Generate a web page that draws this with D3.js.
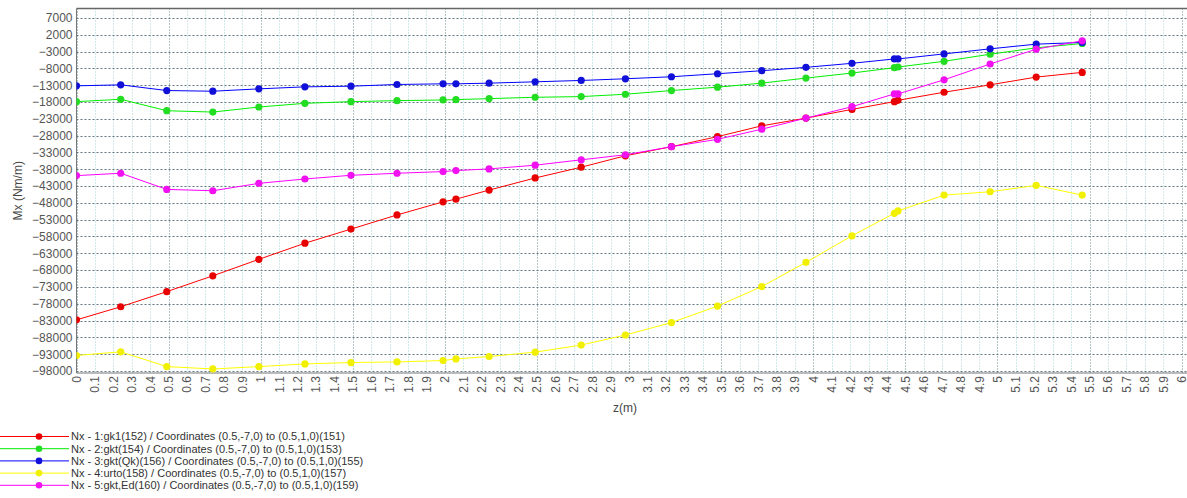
<!DOCTYPE html>
<html>
<head>
<meta charset="utf-8">
<script src="https://cdn.jsdelivr.net/npm/d3@7"></script>
<style>
  html, body { margin: 0; padding: 0; background: #fff; }
  svg { display: block; font-family: "Liberation Sans", Arial, sans-serif; }
</style>
</head>
<body>
<svg id="chart" width="1187" height="498"></svg>
<script>
// ---- data ----
const zValues = [0, 0.24, 0.49, 0.74, 0.99, 1.24, 1.49, 1.74, 1.99, 2.06, 2.24, 2.49, 2.74, 2.98, 3.23, 3.48, 3.72, 3.96, 4.21, 4.44, 4.46, 4.71, 4.96, 5.21, 5.46];
const mx1 = [-82800, -78900, -74400, -69700, -64800, -60000, -55800, -51600, -47700, -46900, -44200, -40600, -37400, -34000, -31300, -28300, -25100, -22800, -20200, -17900, -17500, -15100, -12900, -10600, -9200];
const mx2 = [-17900, -17200, -20600, -21000, -19500, -18400, -17900, -17600, -17400, -17300, -17000, -16600, -16400, -15700, -14600, -13600, -12400, -10900, -9400, -7800, -7600, -5900, -3800, -1900, -600];
const mx3 = [-13200, -12900, -14600, -14800, -14100, -13500, -13300, -12800, -12600, -12600, -12400, -12000, -11600, -11100, -10500, -9600, -8700, -7700, -6500, -5200, -5200, -3700, -2200, -800, -300];
const mx4 = [-93400, -92300, -96700, -97400, -96700, -95900, -95500, -95300, -94900, -94400, -93700, -92400, -90300, -87300, -83600, -78700, -72900, -65700, -57800, -51100, -50400, -45700, -44700, -42800, -45700];
const mx5 = [-39900, -39200, -44000, -44400, -42200, -40900, -39800, -39200, -38700, -38400, -37900, -36800, -35200, -33700, -31300, -29100, -26100, -22800, -19400, -15600, -15600, -11400, -6700, -2300, 200];
const seriesNames = [
  "Nx - 1:gk1(152) / Coordinates (0.5,-7,0) to (0.5,1,0)(151)",
  "Nx - 2:gkt(154) / Coordinates (0.5,-7,0) to (0.5,1,0)(153)",
  "Nx - 3:gkt(Qk)(156) / Coordinates (0.5,-7,0) to (0.5,1,0)(155)",
  "Nx - 4:urto(158) / Coordinates (0.5,-7,0) to (0.5,1,0)(157)",
  "Nx - 5:gkt,Ed(160) / Coordinates (0.5,-7,0) to (0.5,1,0)(159)"
];
const seriesColors = ["#ff0000", "#00ee00", "#0000ff", "#ffff00", "#ff00ff"];
const markerColors = ["#e80000", "#22dd22", "#1010d8", "#f0f000", "#f010f0"];
const yTicks = d3.range(-98000, 7001, 5000);
const xTicks = d3.range(0, 61).map(i => i / 10);
const yTitle = "Mx (Nm/m)";
const xTitle = "z(m)";

const allSeries = [mx1, mx2, mx3, mx4, mx5].map((vals, i) => ({
  name: seriesNames[i], color: seriesColors[i], marker: markerColors[i],
  points: vals.map((v, j) => ({ z: zValues[j], v }))
}));

// ---- layout ----
const svg = d3.select("#chart");
const pL = 76.5, pT = 8.5, pB = 373, pR = 1187;
const x = d3.scaleLinear().domain([0, 6.05]).range([pL, pL + 6.05 * 184.2]);
const y = d3.scaleLinear().domain([-98600, 9800]).range([pB, pT]);

svg.append("defs").append("clipPath").attr("id", "clip")
  .append("rect").attr("x", pL).attr("y", pT).attr("width", pR - pL).attr("height", pB - pT);

// grid
const grid = svg.append("g");
grid.selectAll("line.vg").data(xTicks).join("line")
  .attr("x1", d => Math.round(x(d)) + 0.5).attr("x2", d => Math.round(x(d)) + 0.5)
  .attr("y1", pT).attr("y2", pB)
  .attr("stroke", (d, i) => (i % 5 === 0) ? "#6a8c90" : "#9fd0d4")
  .attr("stroke-width", 1)
  .attr("stroke-dasharray", "1,2");
grid.selectAll("line.hg").data(yTicks).join("line")
  .attr("x1", pL).attr("x2", pR)
  .attr("y1", d => Math.round(y(d)) + 0.5).attr("y2", d => Math.round(y(d)) + 0.5)
  .attr("stroke", "#5f7780")
  .attr("stroke-width", 1)
  .attr("stroke-dasharray", "2,2");

// frame
svg.append("line").attr("x1", pL).attr("x2", pR).attr("y1", pT).attr("y2", pT)
  .attr("stroke", "#666").attr("stroke-width", 1.5);
svg.append("line").attr("x1", pL).attr("x2", pL).attr("y1", pT).attr("y2", pB)
  .attr("stroke", "#777").attr("stroke-width", 1);
svg.append("line").attr("x1", pL).attr("x2", pR).attr("y1", pB).attr("y2", pB)
  .attr("stroke", "#777").attr("stroke-width", 1);

// y axis
const yAxis = d3.axisLeft(y).tickValues(yTicks).tickSize(0).tickPadding(4).tickFormat(d3.format("d"));
const gy = svg.append("g").attr("transform", `translate(${pL},0)`).call(yAxis);
gy.select(".domain").remove();
gy.selectAll("text").attr("font-size", 12).attr("fill", "#555")
  .attr("font-family", "'Liberation Sans', Arial, sans-serif");

// x axis
const xAxis = d3.axisBottom(x).tickValues(xTicks).tickSize(0).tickFormat(d => String(+d.toFixed(1)));
const gx = svg.append("g").attr("transform", `translate(0,${pB})`).call(xAxis);
gx.select(".domain").remove();
gx.selectAll("text")
  .attr("font-size", 12).attr("fill", "#555")
  .attr("font-family", "'Liberation Sans', Arial, sans-serif")
  .attr("text-anchor", "end")
  .attr("transform", "rotate(-90)")
  .attr("x", -3).attr("y", 0).attr("dy", "0.33em");

// titles
svg.append("text").attr("x", 625).attr("y", 412).attr("text-anchor", "middle")
  .attr("font-size", 12).attr("fill", "#444").text(xTitle);
svg.append("text").attr("transform", `translate(18,${(pT + pB) / 2}) rotate(-90)`)
  .attr("text-anchor", "middle").attr("dy", "0.35em")
  .attr("font-size", 12).attr("fill", "#444").text(yTitle);

// series
const plot = svg.append("g").attr("clip-path", "url(#clip)");
const line = d3.line().x(d => x(d.z)).y(d => y(d.v));
allSeries.forEach(s => {
  const g = plot.append("g");
  g.append("path").datum(s.points).attr("d", line)
    .attr("fill", "none").attr("stroke", s.color).attr("stroke-width", 1);
  g.selectAll("circle").data(s.points).join("circle")
    .attr("cx", d => x(d.z)).attr("cy", d => y(d.v)).attr("r", 3.6)
    .attr("fill", s.marker);
});

// legend
const legend = svg.append("g");
allSeries.forEach((s, i) => {
  const ly = 436.5 + i * 12.2;
  legend.append("line").attr("x1", 0).attr("x2", 69).attr("y1", ly).attr("y2", ly)
    .attr("stroke", s.color).attr("stroke-width", 1);
  legend.append("circle").attr("cx", 39).attr("cy", ly).attr("r", 3.3).attr("fill", s.marker);
  legend.append("text").attr("x", 71).attr("y", ly).attr("dy", "0.35em")
    .attr("font-size", 11).attr("fill", "#333").text(s.name);
});
</script>
</body>
</html>
